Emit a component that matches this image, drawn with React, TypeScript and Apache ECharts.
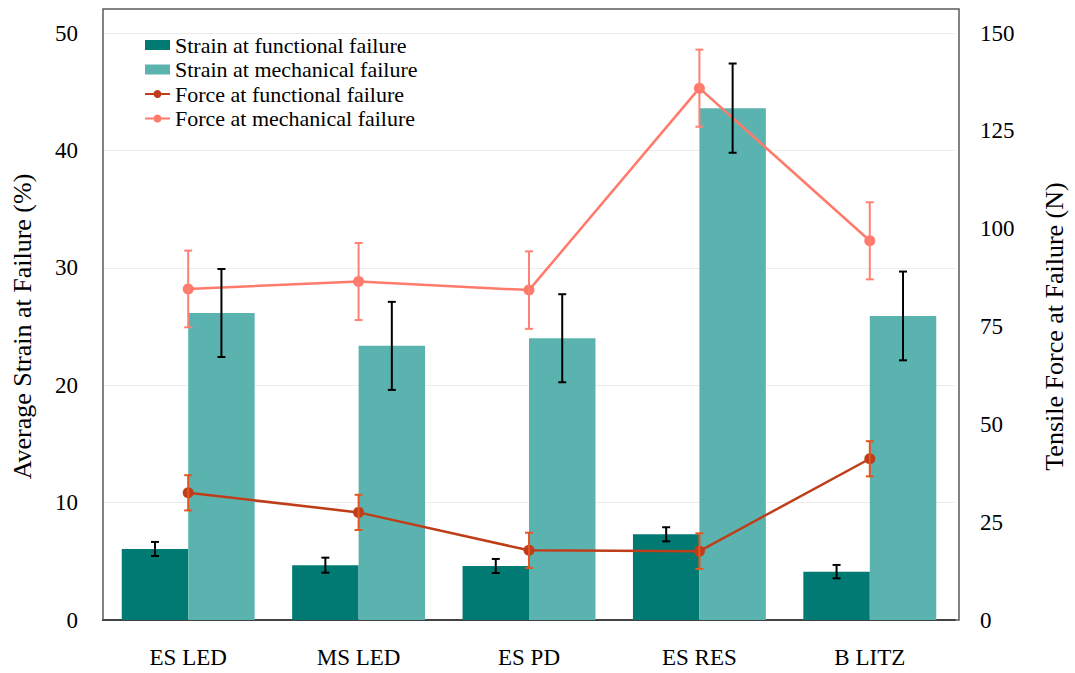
import React, { useEffect, useRef } from "react";
import * as echarts from "echarts";

const categories = ["ES LED", "MS LED", "ES PD", "ES RES", "B LITZ"];
const strainFunctional = [6.05, 4.67, 4.6, 7.3, 4.12];
const strainFunctionalErr = [0.6, 0.64, 0.6, 0.6, 0.57];
const strainMechanical = [26.15, 23.35, 24.0, 43.6, 25.9];
const strainMechanicalErr = [3.75, 3.75, 3.75, 3.8, 3.78];
const forceFunctional = [32.5, 27.5, 17.8, 17.6, 41.2];
const forceFunctionalErr = [4.5, 4.5, 4.5, 4.55, 4.5];
const forceMechanical = [84.6, 86.5, 84.3, 135.9, 96.9];
const forceMechanicalErr = [9.8, 9.85, 9.9, 9.85, 9.85];
const leftTicks = { min: 0, max: 50, interval: 10 };
const rightTicks = { min: 0, max: 150, interval: 25 };

const FONT = "Liberation Serif";
const CAT_GAP = 0.22;

function errData(vals: number[], errs: number[]) {
  return vals.map((v, i) => [i, v - errs[i], v + errs[i]]);
}

function makeErrRender(side: number, color: string, capHalf: number, width: number) {
  return (params: any, api: any) => {
    const x = api.value(0);
    const lo = api.coord([x, api.value(1)]);
    const hi = api.coord([x, api.value(2)]);
    const barW = (api.size([1, 0])[0] * (1 - CAT_GAP)) / 2;
    const cx = lo[0] + (side * barW) / 2;
    const style = { stroke: color, lineWidth: width };
    return {
      type: "group",
      children: [
        { type: "line", shape: { x1: cx, y1: hi[1], x2: cx, y2: lo[1] }, style },
        { type: "line", shape: { x1: cx - capHalf, y1: hi[1], x2: cx + capHalf, y2: hi[1] }, style },
        { type: "line", shape: { x1: cx - capHalf, y1: lo[1], x2: cx + capHalf, y2: lo[1] }, style },
      ],
    };
  };
}

export default function App() {
  const ref = useRef<HTMLDivElement>(null);
  useEffect(() => {
    document.body.style.margin = "0";
    const chart = echarts.init(ref.current!, null, { renderer: "svg" });
    const GL = 103, GR = 959, GT = 33, GB = 620;
    chart.setOption({
      animation: false,
      backgroundColor: "#ffffff",
      textStyle: { fontFamily: FONT },
      grid: { left: GL, right: 1075 - GR, top: GT, bottom: 673 - GB, containLabel: false },
      legend: {
        orient: "vertical",
        left: 144,
        top: 34,
        padding: 0,
        itemWidth: 25,
        itemHeight: 10,
        itemGap: 2.5,
        textStyle: { fontFamily: FONT, fontSize: 22, color: "#000", lineHeight: 22 },
        data: [
          { name: "Strain at functional failure", icon: "rect" },
          { name: "Strain at mechanical failure", icon: "rect" },
          "Force at functional failure",
          "Force at mechanical failure",
        ],
      },
      xAxis: {
        type: "category",
        data: categories,
        axisLine: { lineStyle: { color: "#000", width: 2 } },
        axisTick: { show: false },
        axisLabel: { fontFamily: FONT, fontSize: 23, color: "#000", margin: 26 },
      },
      yAxis: [
        {
          type: "value",
          min: leftTicks.min,
          max: leftTicks.max,
          interval: leftTicks.interval,
          name: "Average Strain at Failure (%)",
          nameLocation: "middle",
          nameGap: 68,
          nameTextStyle: { fontFamily: FONT, fontSize: 26, color: "#000" },
          axisLine: { show: false },
          axisTick: { show: false },
          axisLabel: { fontFamily: FONT, fontSize: 23, color: "#000", margin: 25 },
          splitLine: { lineStyle: { color: "#ECECEC", width: 1 } },
        },
        {
          type: "value",
          min: rightTicks.min,
          max: rightTicks.max,
          interval: rightTicks.interval,
          name: "Tensile Force at Failure (N)",
          nameLocation: "middle",
          nameGap: 86,
          nameTextStyle: { fontFamily: FONT, fontSize: 26, color: "#000" },
          axisLine: { show: false },
          axisTick: { show: false },
          axisLabel: { fontFamily: FONT, fontSize: 23, color: "#000", margin: 25 },
          splitLine: { show: false },
        },
      ],
      graphic: [
        {
          type: "rect",
          shape: { x: GL, y: 9, width: GR - GL, height: GB - 9 },
          style: { fill: "none", stroke: "#595959", lineWidth: 1.5 },
          z: 1,
          silent: true,
        },
      ],
      series: [
        {
          name: "Strain at functional failure",
          type: "bar",
          data: strainFunctional,
          itemStyle: { color: "#007A73" },
          barGap: "0%",
          barCategoryGap: CAT_GAP * 100 + "%",
          z: 2,
        },
        {
          name: "Strain at mechanical failure",
          type: "bar",
          data: strainMechanical,
          itemStyle: { color: "#5BB3B0" },
          barGap: "0%",
          barCategoryGap: CAT_GAP * 100 + "%",
          z: 2,
        },
        {
          name: "Force at functional failure",
          type: "line",
          yAxisIndex: 1,
          data: forceFunctional,
          symbol: "circle",
          symbolSize: 11,
          itemStyle: { color: "#BF3E1A" },
          lineStyle: { color: "#BF3E1A", width: 2.5 },
          z: 4,
        },
        {
          name: "Force at mechanical failure",
          type: "line",
          yAxisIndex: 1,
          data: forceMechanical,
          symbol: "circle",
          symbolSize: 11,
          itemStyle: { color: "#FF7A6B" },
          lineStyle: { color: "#FF7A6B", width: 2.5 },
          z: 4,
        },
        {
          type: "custom",
          name: "errSF",
          yAxisIndex: 0,
          data: errData(strainFunctional, strainFunctionalErr),
          encode: { x: 0, y: [1, 2] },
          renderItem: makeErrRender(-1, "#000", 4, 2),
          z: 5,
        },
        {
          type: "custom",
          name: "errSM",
          yAxisIndex: 0,
          data: errData(strainMechanical, strainMechanicalErr),
          encode: { x: 0, y: [1, 2] },
          renderItem: makeErrRender(1, "#000", 4, 2),
          z: 5,
        },
        {
          type: "custom",
          name: "errFF",
          yAxisIndex: 1,
          data: errData(forceFunctional, forceFunctionalErr),
          encode: { x: 0, y: [1, 2] },
          renderItem: makeErrRender(0, "#E4561F", 4, 2),
          z: 5,
        },
        {
          type: "custom",
          name: "errFM",
          yAxisIndex: 1,
          data: errData(forceMechanical, forceMechanicalErr),
          encode: { x: 0, y: [1, 2] },
          renderItem: makeErrRender(0, "#FF8175", 4, 2),
          z: 5,
        },
      ],
    });
    return () => chart.dispose();
  }, []);
  return <div ref={ref} style={{ width: 1075, height: 673 }} />;
}
